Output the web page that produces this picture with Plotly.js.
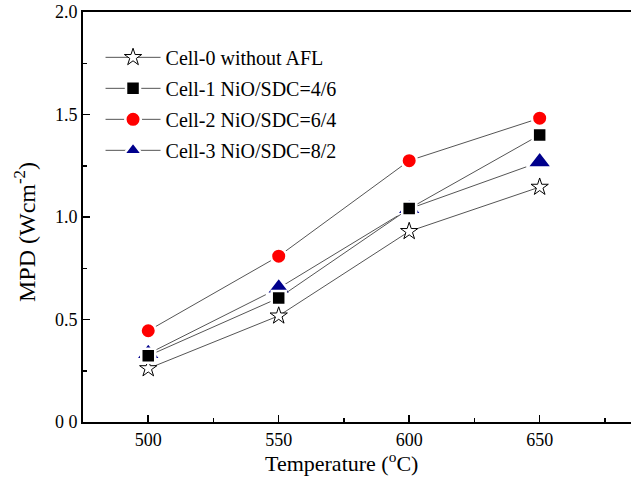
<!DOCTYPE html>
<html>
<head>
<meta charset="utf-8">
<script src="https://cdn.plot.ly/plotly-3.0.1.min.js"></script>
<style>html,body{margin:0;padding:0;background:#fff;}#chart{width:631px;height:479px;}</style>
</head>
<body>
<div id="chart"></div>
<script>
const temperatures = [500, 550, 600, 650];
const cell0 = [0.261, 0.518, 0.930, 1.146];
const cell1 = [0.323, 0.605, 1.041, 1.400];
const cell2 = [0.445, 0.809, 1.275, 1.482];
const cell3 = [0.333, 0.653, 1.040, 1.268];
const seriesNames = ["Cell-0 without AFL", "Cell-1 NiO/SDC=4/6", "Cell-2 NiO/SDC=6/4", "Cell-3 NiO/SDC=8/2"];
const yTickVals = [0, 0.5, 1.0, 1.5, 2.0];
const yTickText = ["0 0", "0.5", "1.0", "1.5", "2.0"];
const xTickVals = [500, 550, 600, 650];
const xTickText = ["500", "550", "600", "650"];

const FONT = "Liberation Serif";
const lineStyle = {color: "#555555", width: 1};

function tr(name, y, marker, rank) {
  return {
    x: temperatures, y: y, name: name, type: "scatter", mode: "lines+markers",
    line: lineStyle, marker: marker, legendrank: rank, legendgroup: name
  };
}

const traces = [
  tr(seriesNames[0], cell0, {symbol: "star", size: 13, color: "#ffffff", line: {color: "#000000", width: 1}}, 1),
  tr(seriesNames[3], cell3, {symbol: "triangle-up", size: 22, color: "#00008c", line: {color: "#ffffff", width: 2.5}}, 4),
  tr(seriesNames[1], cell1, {symbol: "square", size: 14, color: "#000000", line: {color: "#ffffff", width: 2.5}}, 2),
  tr(seriesNames[2], cell2, {symbol: "circle", size: 15.5, color: "#ff0000", line: {color: "#ffffff", width: 2.5}}, 3)
];

const layout = {
  width: 631, height: 479,
  margin: {l: 83, r: 0, t: 12, b: 57},
  paper_bgcolor: "#ffffff", plot_bgcolor: "#ffffff",
  font: {family: FONT, color: "#000000", size: 18},
  showlegend: true,
  legend: {
    x: 0.032, y: 0.937, xanchor: "left", yanchor: "top",
    bgcolor: "rgba(0,0,0,0)", borderwidth: 0,
    font: {family: FONT, size: 20, color: "#000000"},
    traceorder: "grouped", tracegroupgap: 2, itemwidth: 55
  },
  xaxis: {
    range: [475, 685], tickmode: "array", tickvals: xTickVals, ticktext: xTickText,
    showgrid: false, zeroline: false, showline: true, linecolor: "#000000", linewidth: 2,
    mirror: true, ticks: "inside", ticklen: 7, tickwidth: 1.5, tickcolor: "#000000",
    minor: {dtick: 25, tick0: 500, ticks: "inside", ticklen: 4, tickwidth: 1.5, tickcolor: "#000000", showgrid: false},
    tickfont: {family: FONT, size: 18}
  },
  yaxis: {
    range: [0, 2.0], tickmode: "array", tickvals: yTickVals, ticktext: yTickText,
    showgrid: false, zeroline: false, showline: true, linecolor: "#000000", linewidth: 2,
    mirror: false, ticks: "inside", ticklen: 7, tickwidth: 1.5, tickcolor: "#000000",
    minor: {dtick: 0.25, tick0: 0, ticks: "inside", ticklen: 4, tickwidth: 1.5, tickcolor: "#000000", showgrid: false},
    tickfont: {family: FONT, size: 18}
  },
  annotations: [
    {text: "Temperature (<sup>o</sup>C)", xref: "paper", yref: "paper",
     x: (341 - 83) / 548, y: -(462 - 422) / 410, xanchor: "center", yanchor: "middle",
     showarrow: false, font: {family: FONT, size: 22}},
    {text: "MPD (Wcm<sup>-2</sup>)", xref: "paper", yref: "paper", textangle: -90,
     x: -(83 - 25) / 548, y: (422 - 232) / 410, xanchor: "center", yanchor: "middle",
     showarrow: false, font: {family: FONT, size: 24}}
  ]
};

Plotly.newPlot("chart", traces, layout, {displayModeBar: false, staticPlot: true});
</script>
</body>
</html>
